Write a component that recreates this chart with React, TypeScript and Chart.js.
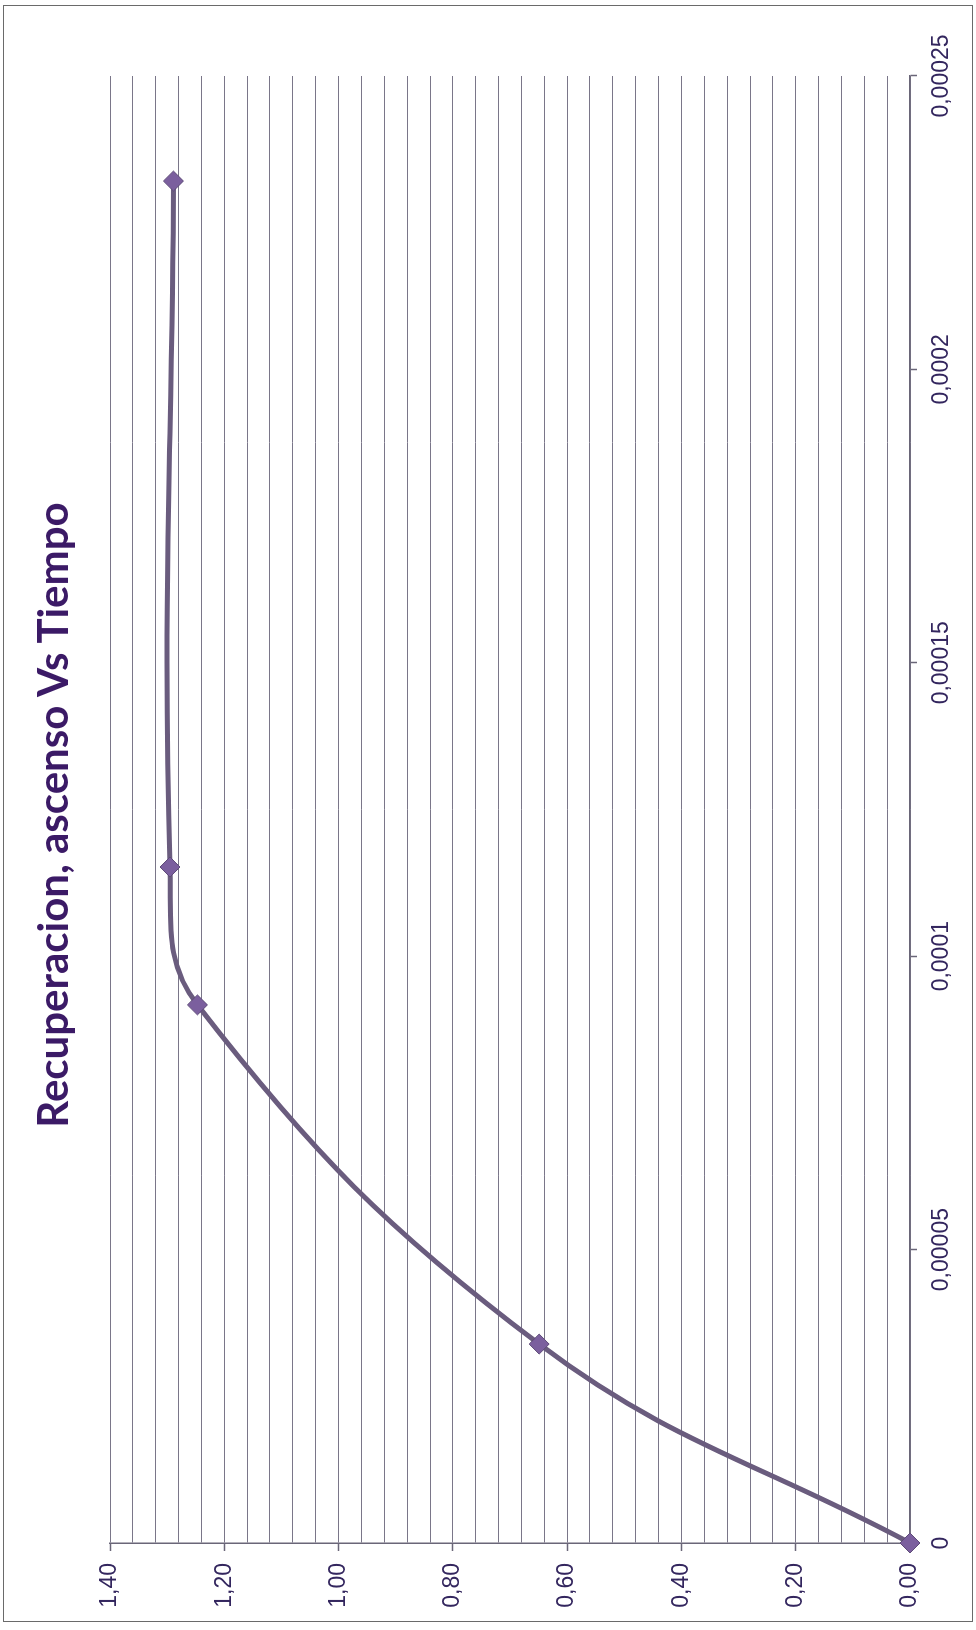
import React, { useEffect, useRef } from 'react';
import { Chart, registerables } from 'chart.js';

Chart.register(...registerables);

// ---- Data ----
const titulo = 'Recuperacion, ascenso Vs Tiempo';
const tiempo = [0, 0.0000339, 0.0000917, 0.0001152, 0.0002321];
const recuperacion = [0, 0.649, 1.247, 1.295, 1.289];
const tiempoTicks = [0, 0.00005, 0.0001, 0.00015, 0.0002, 0.00025];
const tiempoLabels = ['0', '0,00005', '0,0001', '0,00015', '0,0002', '0,00025'];
const recuperacionTicks = [0, 0.2, 0.4, 0.6, 0.8, 1.0, 1.2, 1.4];
const recuperacionLabels = ['0,00', '0,20', '0,40', '0,60', '0,80', '1,00', '1,20', '1,40'];

const W = 1630; // unrotated chart width (page height)
const H = 976; // unrotated chart height (page width)

const gridColor = '#7a7689';
const axisColor = '#6a6678';
const textColor = '#33265e';

function majorIndex(v: number): number {
  for (let i = 0; i < recuperacionTicks.length; i++) {
    if (Math.abs(v - recuperacionTicks[i]) < 1e-6) return i;
  }
  return -1;
}

export default function App() {
  const ref = useRef<HTMLCanvasElement | null>(null);

  useEffect(() => {
    if (!ref.current) return;
    const points = tiempo.map((t, i) => ({ x: t, y: recuperacion[i] }));
    const chart = new Chart(ref.current, {
      type: 'scatter',
      data: {
        datasets: [
          {
            data: points,
            showLine: true,
            tension: 0.4,
            borderColor: '#6a5c7e',
            borderWidth: 5,
            pointStyle: 'rectRot',
            pointRadius: 10,
            pointBackgroundColor: '#7b5f9e',
            pointBorderColor: '#5e4b78',
            pointBorderWidth: 1,
            clip: false as any,
          },
        ],
      },
      options: {
        responsive: false,
        animation: false,
        layout: { padding: { left: 0, right: 76, top: 110, bottom: 0 } },
        plugins: {
          legend: { display: false },
          tooltip: { enabled: false },
          title: { display: false },
        },
        scales: {
          x: {
            type: 'linear',
            position: 'bottom',
            min: 0,
            max: 0.00025,
            afterBuildTicks: (scale: any) => {
              scale.ticks = tiempoTicks.map((v) => ({ value: v }));
            },
            afterFit: (scale: any) => {
              scale.height = 66;
            },
            ticks: {
              autoSkip: false,
              maxRotation: 0,
              minRotation: 0,
              padding: 11,
              color: textColor,
              font: { family: 'Liberation Sans', size: 23 },
              callback: (_v: any, i: number) => tiempoLabels[i],
            },
            grid: {
              drawOnChartArea: false,
              drawTicks: true,
              tickLength: 7,
              tickColor: axisColor,
              tickWidth: 1.5,
            },
            border: { display: true, color: axisColor, width: 1.5 },
          },
          y: {
            type: 'linear',
            position: 'left',
            min: 0,
            max: 1.4,
            afterBuildTicks: (scale: any) => {
              scale.ticks = scale.ticks.map((t: any) => ({ value: Math.round(t.value * 100) / 100 }));
            },
            afterFit: (scale: any) => {
              scale.width = 87;
            },
            ticks: {
              stepSize: 0.04,
              autoSkip: false,
              padding: 12,
              color: textColor,
              font: { family: 'Liberation Sans', size: 23 },
              callback: (v: any) => {
                const i = majorIndex(Number(v));
                return i >= 0 ? recuperacionLabels[i] : '';
              },
            },
            grid: {
              color: gridColor,
              lineWidth: 1,
              drawTicks: true,
              tickLength: 8,
              tickWidth: 1.5,
              tickColor: (ctx: any) =>
                ctx.tick && majorIndex(ctx.tick.value) >= 0 ? axisColor : 'rgba(0,0,0,0)',
            },
            border: { display: true, color: axisColor, width: 1.5 },
          },
        },
      },
    } as any);
    return () => chart.destroy();
  }, []);

  return (
    <div
      style={{
        position: 'absolute',
        left: 0,
        top: 0,
        width: 976,
        height: 1630,
        background: '#ffffff',
        overflow: 'hidden',
      }}
    >
      <div
        style={{
          position: 'absolute',
          left: 3,
          top: 5,
          width: 970,
          height: 1617,
          border: '1.5px solid #6a6a6a',
          boxSizing: 'border-box',
        }}
      />
      <div
        style={{
          position: 'absolute',
          left: 0,
          top: 0,
          width: W,
          height: H,
          transformOrigin: '0 0',
          transform: `translate(0px, ${W}px) rotate(-90deg)`,
        }}
      >
        <canvas ref={ref} width={W} height={H} style={{ display: 'block' }} />
        <div
          style={{
            position: 'absolute',
            left: 0,
            top: 27,
            width: W,
            height: 50,
            lineHeight: '50px',
            textAlign: 'center',
            fontFamily: 'Lato, sans-serif',
            fontWeight: 700,
            fontSize: 42,
            color: '#3b1a66',
            whiteSpace: 'nowrap',
          }}
        >
          {titulo}
        </div>
      </div>
    </div>
  );
}
